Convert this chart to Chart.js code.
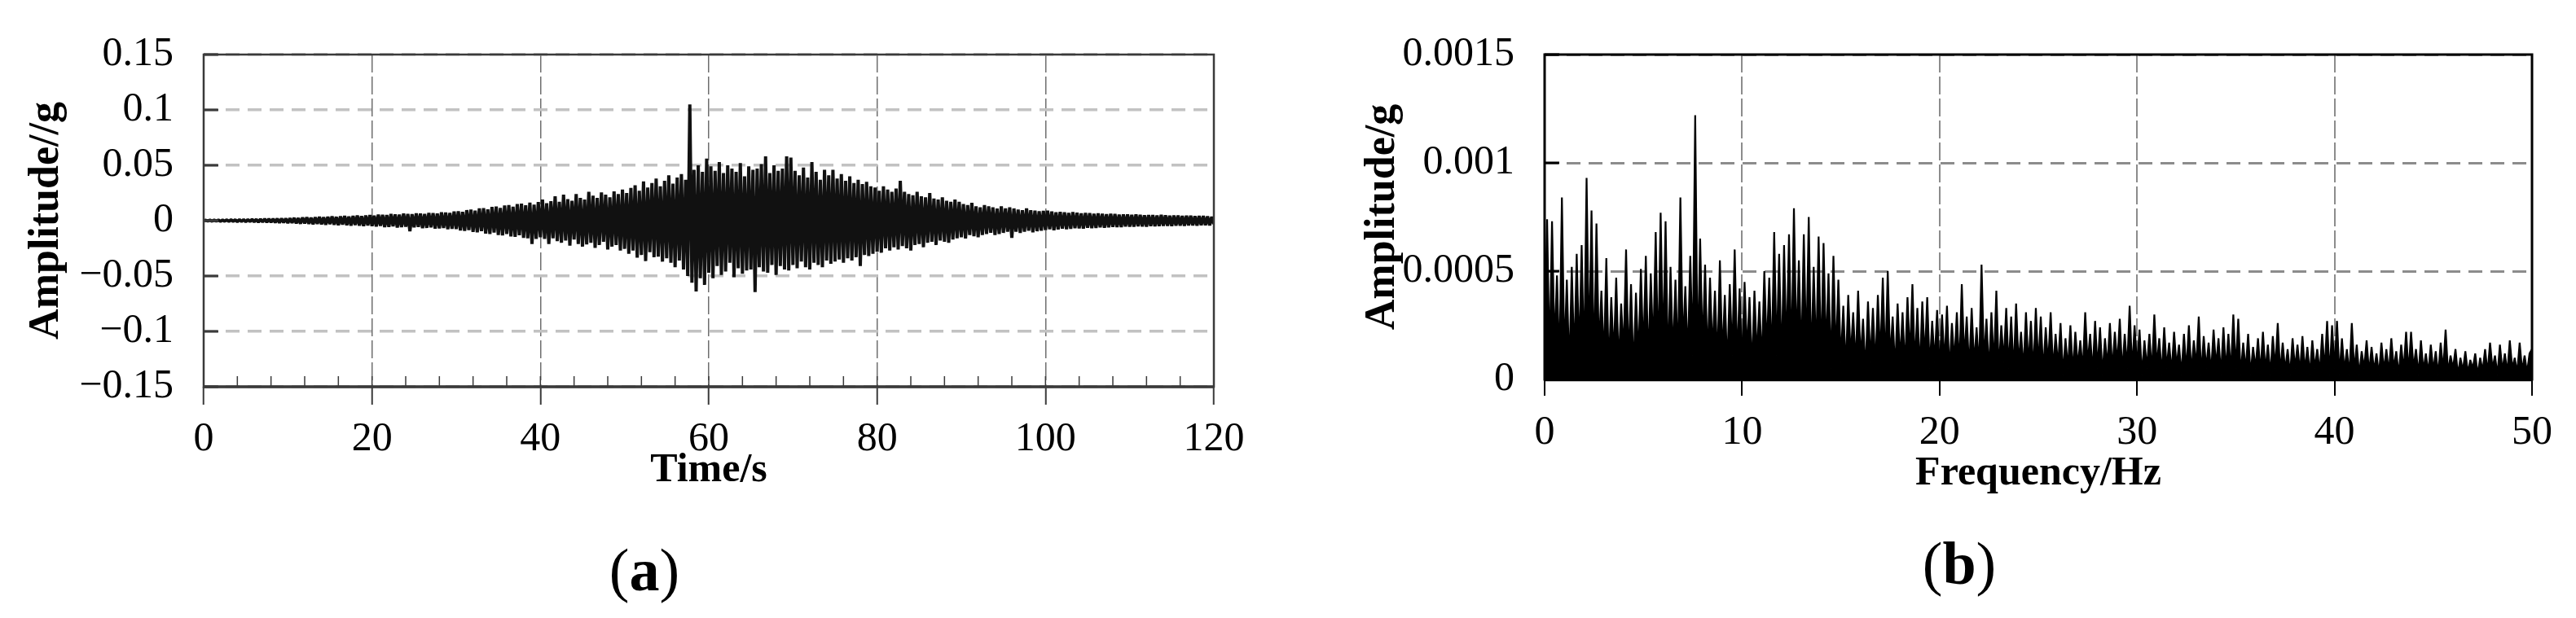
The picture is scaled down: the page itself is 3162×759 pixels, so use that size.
<!DOCTYPE html>
<html>
<head>
<meta charset="utf-8">
<script src="https://cdn.jsdelivr.net/npm/chart.js@4.4.1/dist/chart.umd.min.js"></script>
<style>
  html, body { margin: 0; padding: 0; background: #fff; }
  body { width: 3162px; height: 759px; position: relative; overflow: hidden; }
  .box { position: absolute; }
  .cap { position: absolute; font-family: "Liberation Serif", "Times New Roman", serif; font-size: 74px; color: #000; transform: translate(-50%, -50%); }
</style>
</head>
<body>
<div class="box" style="left:0px;top:0px;width:1560px;height:620px"><canvas id="timeChart"></canvas></div>
<div class="box" style="left:1600px;top:0px;width:1562px;height:640px"><canvas id="freqChart"></canvas></div>
<div class="cap" style="left:791px;top:700px">(<b>a</b>)</div>
<div class="cap" style="left:2405px;top:692px">(<b>b</b>)</div>
<script>
// (a) acceleration record, one value every 0.25 s from 0 to 120 s (g)
var timeStep = 0.25;
var accel = [
  0, 0.0003, -0.0003, 0.0004, -0.0004, 0.0005, -0.0004, 0.0005, -0.0006, 0.0006, -0.0005, 0.0007, -0.0007, 0.0008, -0.0006, 0.0008, -0.0009, 0.0009, -0.0008, 0.001,
  -0.001, 0.0011, -0.0009, 0.0012, -0.0011, 0.0012, -0.0013, 0.0014, -0.0012, 0.0015, -0.0014, 0.0016, -0.0015, 0.0017, -0.0016, 0.0018, -0.0019, 0.0019, -0.0018, 0.002,
  -0.0021, 0.0022, -0.002, 0.0025, -0.0024, 0.0023, -0.0027, 0.0028, -0.0025, 0.003, -0.0029, 0.0027, -0.0032, 0.0031, -0.0028, 0.0034, -0.0033, 0.003, -0.0036, 0.0035,
  -0.0031, 0.0038, -0.0037, 0.0034, -0.004, 0.0039, -0.0035, 0.0042, -0.0041, 0.0037, -0.0044, 0.0043, -0.0039, 0.0046, -0.0045, 0.0041, -0.0048, 0.0047, -0.0043, 0.005,
  -0.0049, 0.0045, -0.0052, 0.0055, -0.0047, 0.0053, -0.0058, 0.005, -0.0056, 0.006, -0.0051, 0.0057, -0.0062, 0.0054, -0.0059, 0.0063, -0.0055, 0.0061, -0.0095, 0.0058,
  -0.006, 0.0066, -0.0057, 0.0064, -0.0068, 0.006, -0.0065, 0.007, -0.0061, 0.0068, -0.0072, 0.0064, -0.0069, 0.0075, -0.0066, 0.0073, -0.0078, 0.0069, -0.0074, 0.0082,
  -0.0076, 0.0085, -0.0088, 0.0079, -0.0092, 0.0095, -0.0084, 0.0099, -0.0102, 0.009, -0.0106, 0.011, -0.0095, 0.0113, -0.0117, 0.0101, -0.012, 0.0124, -0.0108, 0.0127,
  -0.013, 0.0114, -0.0133, 0.0137, -0.012, 0.014, -0.0143, 0.0126, -0.0146, 0.015, -0.0132, 0.0153, -0.0156, 0.0138, -0.0159, 0.0162, -0.021, 0.0145, -0.0165, 0.0168,
  -0.015, 0.019, -0.0165, 0.0158, -0.021, 0.0175, -0.016, 0.022, -0.0185, 0.017, -0.02, 0.0235, -0.018, 0.0195, -0.0225, 0.018, -0.017, 0.024, -0.021, 0.0205,
  -0.0235, 0.019, -0.0215, 0.026, -0.02, 0.0225, -0.0245, 0.0205, -0.022, 0.0255, -0.019, 0.0235, -0.026, 0.021, -0.0235, 0.0265, -0.022, 0.024, -0.027,
  0.028, -0.0255, 0.025, -0.03, 0.0295, -0.027, 0.032, -0.0335, 0.027, -0.031, 0.0355, -0.0365, 0.03, -0.0285, 0.034, -0.033, 0.038, -0.0325, 0.031, -0.037,
  0.036, -0.034, 0.041, -0.038, 0.0335, -0.042, 0.039, -0.036, 0.042, -0.044, 0.037, -0.05, 0.105, -0.056, 0.046, -0.064, 0.05, -0.052, 0.044, -0.058,
  0.056, -0.047, 0.049, -0.052, 0.045, -0.041, 0.053, -0.049, 0.043, -0.046, 0.05, -0.038, 0.047, -0.051, 0.044, -0.043, 0.052, -0.048, 0.04, -0.045,
  0.049, -0.044, 0.046, -0.0645, 0.047, -0.042, 0.051, -0.046, 0.058, -0.047, 0.043, -0.04, 0.05, -0.049, 0.045, -0.041, 0.047, -0.044, 0.058, -0.045,
  0.057, -0.04, 0.045, -0.043, 0.041, -0.037, 0.048, -0.042, 0.039, -0.044, 0.053, -0.038, 0.044, -0.04, 0.037, -0.042, 0.046, -0.036, 0.041, -0.039,
  0.046, -0.037, 0.038, -0.035, 0.042, -0.038, 0.036, -0.034, 0.04, -0.036, 0.034, -0.033, 0.037, -0.041, 0.033, -0.031, 0.035, -0.032, 0.031, -0.03,
  0.03, -0.028, 0.027, -0.029, 0.031, -0.025, 0.028, -0.027, 0.026, -0.024, 0.029, -0.026, 0.036, -0.023, 0.026, -0.025, 0.024, -0.027, 0.023, -0.022,
  0.026, -0.021, 0.022, -0.024, 0.021, -0.02, 0.025, -0.019, 0.02, -0.022, 0.019, -0.018, 0.021, -0.019, 0.018, -0.02, 0.017, -0.017, 0.019, -0.016,
  0.017, -0.015, 0.015, -0.016, 0.014, -0.013, 0.016, -0.014, 0.013, -0.015, 0.012, -0.013, 0.014, -0.012, 0.013, -0.011, 0.012, -0.013, 0.011, -0.012,
  0.013, -0.011, 0.011, -0.01, 0.012, -0.0155, 0.011, -0.01, 0.01, -0.011, 0.0095, -0.01, 0.011, -0.009, 0.0095, -0.0105, 0.009, -0.0095, 0.0085, -0.009,
  0.0088, -0.0085, 0.009, -0.0078, 0.0082, -0.0086, 0.0075, -0.008, 0.0079, -0.0072, 0.0076, -0.0078, 0.007, -0.0074, 0.0077, -0.0068, 0.0072, -0.007, 0.0066, -0.0071,
  0.0069, -0.0064, 0.0067, -0.0068, 0.0062, -0.0065, 0.0066, -0.006, 0.0063, -0.0064, 0.0058, -0.0061, 0.0062, -0.0057, 0.006, -0.0059, 0.0055, -0.0058, 0.0057, -0.0053,
  0.0056, -0.0054, 0.0052, -0.0055, 0.0057, -0.005, 0.0053, -0.0052, 0.0049, -0.0054, 0.0051, -0.0048, 0.005, -0.0051, 0.0047, -0.0049, 0.0052, -0.0046, 0.0048, -0.0047,
  0.0045, -0.0049, 0.0047, -0.0044, 0.0046, -0.0045, 0.0043, -0.0046, 0.0044, -0.0042, 0.0045, -0.0043, 0.0041, -0.0044, 0.0042, -0.004, 0.0043, -0.0041, 0.0039, -0.0042,
  0.0035, -0.003
];

// (b) Fourier amplitude, one value every 0.125 Hz from 0 to 50 Hz (g)
var freqStep = 0.125;
var spectrum = [
  0.0002, 0.00074, 0.00008, 0.00073, 0.00015, 0.00048, 0.00006, 0.00084, 0.0001, 0.00046, 0.00004, 0.00052, 0.00009, 0.00058, 0.00011, 0.00062, 0.00007, 0.00093, 0.00012, 0.00078,
  0.00005, 0.00072, 0.00013, 0.00041, 0.00008, 0.00056, 0.00004, 0.00038, 0.0001, 0.00047, 0.00006, 0.00035, 0.00012, 0.0006, 0.00007, 0.00044, 0.00003, 0.0004, 0.00009, 0.00051,
  0.00011, 0.00057, 0.00006, 0.00049, 0.00013, 0.00068, 0.00008, 0.00077, 0.00012, 0.00073, 0.00005, 0.00052, 0.0001, 0.00046, 0.00007, 0.00084, 0.00014, 0.00043, 0.00009, 0.00057,
  0.00011, 0.00122, 0.00006, 0.00065, 0.00013, 0.00053, 0.00008, 0.00047, 0.00012, 0.00041, 0.00007, 0.00055, 0.0001, 0.00039, 0.00005, 0.00044, 0.00011, 0.0006, 0.00008, 0.00042,
  0.00006, 0.00045, 0.00012, 0.00038, 0.00004, 0.00041, 0.0001, 0.00036, 0.00007, 0.0005, 0.00013, 0.00047, 0.00008, 0.00068, 0.00011, 0.00058, 0.00006, 0.00062, 0.00012, 0.00067,
  0.00009, 0.00079, 0.00014, 0.00055, 0.00008, 0.00067, 0.00011, 0.00075, 0.00006, 0.00052, 0.0001, 0.00066, 0.00007, 0.00063, 0.00012, 0.00049, 0.00005, 0.00057, 0.0001, 0.00046,
  0.00008, 0.00034, 0.00004, 0.00039, 0.0001, 0.00031, 0.00006, 0.00041, 0.00009, 0.00028, 0.00003, 0.00036, 0.00008, 0.00033, 0.00005, 0.00039, 0.0001, 0.00047, 0.00006, 0.0005,
  0.00009, 0.00029, 0.00004, 0.00035, 0.00008, 0.00031, 0.00005, 0.00038, 0.0001, 0.00044, 0.00006, 0.00033, 0.00004, 0.00036, 0.00009, 0.00038, 0.00005, 0.00027, 0.00008, 0.00032,
  0.00004, 0.0003, 0.00007, 0.00034, 0.00003, 0.00026, 0.00008, 0.00031, 0.00005, 0.00044, 0.00009, 0.00029, 0.00004, 0.00033, 0.00007, 0.00024, 0.00005, 0.00053, 0.00008, 0.00028,
  0.00003, 0.00031, 0.00006, 0.00041, 0.00004, 0.00025, 0.00008, 0.00033, 0.00005, 0.00029, 0.00003, 0.00035, 0.00007, 0.00022, 0.00004, 0.00031, 0.00006, 0.00027, 0.00003, 0.00033,
  0.00006, 0.00029, 0.00003, 0.00024, 0.00007, 0.00031, 0.00004, 0.00021, 0.00006, 0.00026, 0.00002, 0.00019, 0.00005, 0.00025, 0.00003, 0.00022, 0.00006, 0.00018, 0.00004, 0.00031,
  0.00007, 0.00021, 0.00003, 0.00027, 0.00005, 0.00024, 0.00002, 0.00019, 0.00006, 0.00026, 0.00004, 0.00022, 0.00007, 0.00028, 0.00003, 0.00021, 0.00005, 0.00034, 0.00004, 0.00025,
  0.00006, 0.00023, 0.00002, 0.00018, 0.00005, 0.00021, 0.00003, 0.0003, 0.00006, 0.00019, 0.00002, 0.00024, 0.00005, 0.00017, 0.00003, 0.00022, 0.00006, 0.00016, 0.00002, 0.00021,
  0.00004, 0.00025, 0.00003, 0.00018, 0.00006, 0.00029, 0.00002, 0.0002, 0.00005, 0.00017, 0.00003, 0.00023, 0.00006, 0.00019, 0.00002, 0.00024, 0.00004, 0.00021, 0.00003, 0.0003,
  0.00005, 0.00028, 0.00002, 0.00017, 0.00004, 0.00021, 0.00002, 0.00015, 0.00005, 0.00019, 0.00003, 0.00022, 0.00004, 0.00016, 0.00002, 0.0002, 0.00005, 0.00026, 0.00003, 0.00017,
  0.00004, 0.00014, 0.00002, 0.00019, 0.00005, 0.00016, 0.00003, 0.0002, 0.00004, 0.00015, 0.00002, 0.00018, 0.00005, 0.00014, 0.00003, 0.00021, 0.00004, 0.00027, 0.00002, 0.00025,
  0.00005, 0.00027, 0.00002, 0.00019, 0.00004, 0.00014, 0.00002, 0.00026, 0.00004, 0.00016, 0.00002, 0.00013, 0.00005, 0.00018, 0.00003, 0.00015, 0.00004, 0.00012, 0.00002, 0.00017,
  0.00004, 0.00014, 0.00003, 0.00019, 0.00005, 0.00013, 0.00002, 0.00016, 0.00004, 0.00022, 0.00003, 0.00022, 0.00005, 0.00014, 0.00002, 0.00018, 0.00004, 0.00012, 0.00003, 0.00016,
  0.00004, 0.00013, 0.00002, 0.00017, 0.00004, 0.00023, 0.00003, 0.00011, 0.00005, 0.00014, 0.00002, 0.0001, 0.00004, 0.00013, 0.00003, 0.00009, 0.00005, 0.00012, 0.00002, 0.0001,
  0.00004, 0.00014, 0.00003, 0.00017, 0.00005, 0.00011, 0.00002, 0.00016, 0.00004, 0.00012, 0.00003, 0.00018, 0.00005, 0.0001, 0.00003, 0.00017, 0.00004, 0.00011, 0.00003, 0.00012,
  0.00014
];

var accelTicks = { min: -0.15, max: 0.15, step: 0.05 };
var timeTicks = { min: 0, max: 120, step: 20, minor: 4 };
var ampTicks = { min: 0, max: 0.0015, step: 0.0005 };
var freqTicks = { min: 0, max: 50, step: 10 };

Chart.defaults.font.family = '"Liberation Serif", "Times New Roman", serif';
Chart.defaults.color = '#000';

function fmt(v) {
  return String(+v.toFixed(5)).replace('-', '\u2212');
}

// box around the plot, short inward ticks on the y axis, minor ticks on x
var framePlugin = {
  id: 'frame',
  afterDatasetsDraw: function (chart, args, o) {
    var ctx = chart.ctx, a = chart.chartArea, x = chart.scales.x, y = chart.scales.y;
    ctx.save();
    ctx.strokeStyle = o.color;
    ctx.lineWidth = o.stubWidth;
    y.ticks.forEach(function (t) {
      var py = y.getPixelForValue(t.value);
      ctx.beginPath(); ctx.moveTo(a.left, py); ctx.lineTo(a.left + o.stubLen, py); ctx.stroke();
    });
    if (o.minor) {
      ctx.lineWidth = o.minorWidth;
      for (var v = x.min + o.minor; v < x.max; v += o.minor) {
        var px = x.getPixelForValue(v);
        ctx.beginPath(); ctx.moveTo(px, a.bottom); ctx.lineTo(px, a.bottom - o.minorLen); ctx.stroke();
      }
    }
    ctx.lineWidth = o.width;
    ctx.strokeRect(a.left, a.top, a.right - a.left, a.bottom - a.top);
    ctx.lineWidth = o.bottomWidth;
    ctx.beginPath(); ctx.moveTo(a.left, a.bottom); ctx.lineTo(a.right, a.bottom); ctx.stroke();
    ctx.restore();
  }
};

function makeChart(id, xs, ys, c) {
  return new Chart(document.getElementById(id), {
    type: 'line',
    data: {
      datasets: [{
        data: xs.map(function (t, i) { return { x: t, y: ys[i] }; }),
        borderColor: c.lineColor,
        backgroundColor: c.fillColor,
        borderWidth: c.lineWidth,
        borderJoinStyle: 'bevel',
        pointRadius: 0,
        tension: 0,
        fill: 'origin'
      }]
    },
    options: {
      responsive: true,
      maintainAspectRatio: false,
      animation: false,
      events: [],
      layout: { padding: c.pad },
      plugins: { legend: { display: false }, tooltip: { enabled: false }, frame: c.frame },
      scales: {
        x: {
          type: 'linear',
          min: c.xt.min, max: c.xt.max,
          afterFit: function (s) { s.height = c.xAxisH; },
          ticks: { stepSize: c.xt.step, maxRotation: 0, autoSkip: false, padding: c.xTickPad, font: { size: 50 }, callback: fmt },
          grid: { color: c.vGridColor, lineWidth: c.vGridWidth, drawTicks: true, tickLength: c.tickLen, tickColor: c.frame.color, tickWidth: 2 },
          border: { display: false, dash: [22, 5] },
          title: { display: true, text: c.xTitle, font: { size: 50, weight: 'bold' }, padding: 0 }
        },
        y: {
          min: c.yt.min, max: c.yt.max,
          afterFit: function (s) { s.width = c.yAxisW; },
          ticks: { stepSize: c.yt.step, padding: c.yTickPad, font: { size: 50 }, callback: fmt },
          grid: { color: c.hGridColor, lineWidth: c.hGridWidth, drawTicks: false },
          border: { display: false, dash: [17, 10] },
          title: { display: true, text: c.yTitle, font: { size: 52, weight: 'bold' }, padding: { top: c.yTitlePad, bottom: 0 } }
        }
      }
    },
    plugins: [framePlugin]
  });
}

var accelTimes = accel.map(function (v, i) { return +(i * timeStep).toFixed(2); });
var freqs = spectrum.map(function (v, i) { return +(i * freqStep).toFixed(3); });

makeChart('timeChart', accelTimes, accel, {
  lineColor: '#111', fillColor: '#111', lineWidth: 4,
  pad: { left: 0, top: 53, right: 70, bottom: 12 },
  xt: timeTicks, yt: accelTicks,
  xAxisH: 133, yAxisW: 250,
  xTickPad: 13, yTickPad: 37, tickLen: 22,
  vGridColor: '#6e6e6e', vGridWidth: 1.5,
  hGridColor: '#c2c2c2', hGridWidth: 3.5,
  xTitle: 'Time/s', yTitle: 'Amplitude//g', yTitlePad: 26,
  frame: { color: '#3a3a3a', width: 2.5, bottomWidth: 3.5, stubLen: 18, stubWidth: 3, minor: timeTicks.minor, minorLen: 13, minorWidth: 1.5 }
});

makeChart('freqChart', freqs, spectrum, {
  lineColor: '#000', fillColor: '#000', lineWidth: 2.2,
  pad: { left: 0, top: 55, right: 54, bottom: 28 },
  xt: freqTicks, yt: ampTicks,
  xAxisH: 146, yAxisW: 296,
  xTickPad: 16, yTickPad: 37, tickLen: 20,
  vGridColor: '#8c8c8c', vGridWidth: 2,
  hGridColor: '#8c8c8c', hGridWidth: 3,
  xTitle: 'Frequency/Hz', yTitle: 'Amplitude/g', yTitlePad: 66,
  frame: { color: '#000', width: 3, bottomWidth: 4.5, stubLen: 18, stubWidth: 3, minor: 0 }
});
</script>
</body>
</html>
